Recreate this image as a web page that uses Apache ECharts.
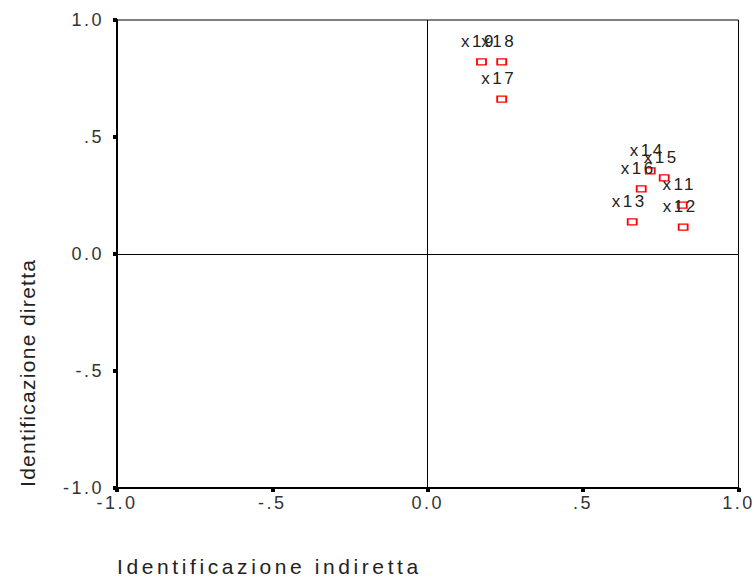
<!DOCTYPE html>
<html>
<head>
<meta charset="utf-8">
<script src="https://cdn.jsdelivr.net/npm/echarts@6/dist/echarts.min.js"></script>
<style>html,body{margin:0;padding:0;background:#fff;}#c{width:754px;height:578px;}</style>
</head>
<body>
<div id="c"></div>
<script>
const pointLabels = ['x11','x12','x13','x14','x15','x16','x17','x18','x19'];
const xValues = [0.819, 0.822, 0.658, 0.716, 0.761, 0.687, 0.238, 0.238, 0.173];
const yValues = [0.209, 0.115, 0.137, 0.355, 0.325, 0.278, 0.662, 0.821, 0.821];
const tickValues = [-1.0, -0.5, 0.0, 0.5, 1.0];
const tickLabels = ['-1.0', '-.5', '0.0', '.5', '1.0'];
const xTitle = 'Identificazione indiretta';
const yTitle = 'Identificazione diretta';

function fmt(v){
  for (let i = 0; i < tickValues.length; i++) {
    if (Math.abs(tickValues[i] - v) < 1e-9) return tickLabels[i];
  }
  return '';
}

const data = pointLabels.map((n, i) => ({ value: [xValues[i], yValues[i]], name: n }));
const font = '"Liberation Sans", Arial, sans-serif';

const chart = echarts.init(document.getElementById('c'), null, { renderer: 'svg' });
chart.setOption({
  backgroundColor: '#fff',
  animation: false,
  grid: { left: 117, right: 14, top: 20, bottom: 90, show: true, borderColor: '#000', borderWidth: 1, backgroundColor: 'transparent' },
  xAxis: {
    type: 'value', min: -1, max: 1, interval: 0.5,
    axisLine: { show: true, onZero: false, lineStyle: { color: '#000', width: 2 } },
    axisTick: { show: true, inside: false, length: 4, lineStyle: { color: '#000', width: 4 } },
    splitLine: { show: false },
    axisLabel: { formatter: fmt, color: '#333', fontFamily: font, fontSize: 18, margin: 6 }
  },
  yAxis: {
    type: 'value', min: -1, max: 1, interval: 0.5,
    axisLine: { show: true, onZero: false, lineStyle: { color: '#000', width: 2 } },
    axisTick: { show: true, inside: false, length: 4, lineStyle: { color: '#000', width: 4 } },
    splitLine: { show: false },
    axisLabel: { formatter: fmt, color: '#333', fontFamily: font, fontSize: 18, margin: 13 }
  },
  graphic: [
    { type: 'text', x: 117, y: 566, style: { text: xTitle, font: '21px ' + font, fill: '#222', textVerticalAlign: 'middle', textAlign: 'left' } },
    { type: 'text', x: 27, y: 487, rotation: Math.PI / 2, style: { text: yTitle, font: '21px ' + font, fill: '#222', textVerticalAlign: 'middle', textAlign: 'left' } }
  ],
  series: [{
    type: 'scatter',
    data: data,
    symbol: 'rect',
    symbolSize: [9, 6],
    itemStyle: { color: '#fff', borderColor: '#ff0000', borderWidth: 1.5, opacity: 1 },
    label: {
      show: true, position: 'top', distance: 4, offset: [-3, -4],
      formatter: p => p.name, color: '#222', fontFamily: font, fontSize: 17
    },
    markLine: {
      silent: true, symbol: 'none', animation: false,
      label: { show: false },
      lineStyle: { color: '#000', width: 1, type: 'solid' },
      data: [{ xAxis: 0 }, { yAxis: 0 }]
    },
    z: 3
  }]
});

function applySpacing(){
  const texts = document.querySelectorAll('#c svg text');
  texts.forEach(t => {
    const s = t.textContent;
    if (s === xTitle) t.style.letterSpacing = '3.6px';
    else if (s === yTitle) t.style.letterSpacing = '1.3px';
    else if (tickLabels.indexOf(s) >= 0) t.style.letterSpacing = '2.5px';
    else if (pointLabels.indexOf(s) >= 0) t.style.letterSpacing = '2.5px';
  });
}
applySpacing();
chart.on('finished', applySpacing);
</script>
</body>
</html>
